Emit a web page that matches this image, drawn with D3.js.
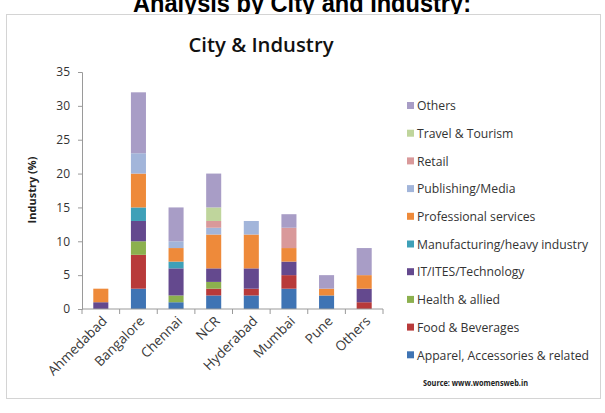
<!DOCTYPE html>
<html>
<head>
<meta charset="utf-8">
<script src="https://cdn.jsdelivr.net/npm/d3@7"></script>
<style>
  body { margin: 0; background: #fff; }
  svg { display: block; font-family: "Open Sans", sans-serif; }
</style>
</head>
<body>
<div id="chart"></div>
<script>
// categories and series
const cities = ["Ahmedabad", "Bangalore", "Chennai", "NCR", "Hyderabad", "Mumbai", "Pune", "Others"];
const industries = ["Apparel, Accessories & related", "Food & Beverages", "Health & allied",
  "IT/ITES/Technology", "Manufacturing/heavy industry", "Professional services",
  "Publishing/Media", "Retail", "Travel & Tourism", "Others"];

// values (%) per industry, in city order
const apparel       = [0, 3, 1, 2, 2, 3, 2, 0];
const food          = [0, 5, 0, 1, 1, 2, 0, 1];
const health        = [0, 2, 1, 1, 0, 0, 0, 0];
const it            = [1, 3, 4, 2, 3, 2, 0, 2];
const manufacturing = [0, 2, 1, 0, 0, 0, 0, 0];
const professional  = [2, 5, 2, 5, 5, 2, 1, 2];
const publishing    = [0, 3, 1, 1, 2, 0, 0, 0];
const retail        = [0, 0, 0, 1, 0, 3, 0, 0];
const travel        = [0, 0, 0, 2, 0, 0, 0, 0];
const others        = [0, 9, 5, 5, 0, 2, 2, 4];

const yTicks = [0, 5, 10, 15, 20, 25, 30, 35];
const colors = ["#3f74b4", "#b83a3a", "#8cb04e", "#64498e", "#3ea0b8", "#ee8a3a",
  "#a2b5da", "#d9999a", "#bfd59c", "#a89dc6"];

const seriesValues = [apparel, food, health, it, manufacturing, professional, publishing, retail, travel, others];

const width = 605, height = 413;
const margin = {top: 72, left: 82, bottom: 104, right: 222};

const svg = d3.select("#chart").append("svg")
  .attr("width", width)
  .attr("height", height);

// outer heading, cut off at the top of the picture
svg.append("text")
  .attr("x", 302).attr("y", 12)
  .attr("text-anchor", "middle")
  .attr("font-family", "Liberation Sans, sans-serif")
  .attr("font-weight", "bold")
  .attr("font-size", 26)
  .attr("textLength", 338)
  .attr("lengthAdjust", "spacingAndGlyphs")
  .attr("fill", "#000")
  .text("Analysis by City and Industry:");

// chart frame
svg.append("rect")
  .attr("x", 6.5).attr("y", 14.5)
  .attr("width", 594).attr("height", 384)
  .attr("fill", "#fff")
  .attr("stroke", "#d4d4d4");

svg.append("text")
  .attr("x", 261).attr("y", 52)
  .attr("text-anchor", "middle")
  .attr("font-size", 20)
  .attr("font-weight", 600)
  .attr("textLength", 145)
  .attr("lengthAdjust", "spacingAndGlyphs")
  .attr("fill", "#111")
  .text("City & Industry");

// data table for stacking
const table = cities.map((c, i) => {
  const row = {city: c};
  industries.forEach((k, j) => row[k] = seriesValues[j][i]);
  return row;
});
const stacked = d3.stack().keys(industries)(table);

const x = d3.scaleBand()
  .domain(cities)
  .range([margin.left, 383])
  .paddingInner(0.6)
  .paddingOuter(0.3);

const y = d3.scaleLinear()
  .domain([0, 35])
  .range([309, margin.top]);

const color = d3.scaleOrdinal().domain(industries).range(colors);

// y axis
const yAxis = svg.append("g")
  .attr("transform", `translate(${margin.left},0)`)
  .call(d3.axisLeft(y).tickValues(yTicks).tickSize(4).tickPadding(8));
yAxis.select(".domain").attr("stroke", "#9a9a9a");
yAxis.selectAll(".tick line").attr("stroke", "#9a9a9a");
yAxis.selectAll("text").attr("font-size", 12).attr("fill", "#333")
  .attr("font-family", "Open Sans, sans-serif");

svg.append("text")
  .attr("transform", "translate(36,190) rotate(-90)")
  .attr("text-anchor", "middle")
  .attr("font-size", 11)
  .attr("font-weight", "bold")
  .attr("fill", "#222")
  .text("Industry (%)");

// bars
svg.append("g")
  .selectAll("g")
  .data(stacked)
  .join("g")
    .attr("fill", d => color(d.key))
  .selectAll("rect")
  .data(d => d)
  .join("rect")
    .attr("x", d => x(d.data.city))
    .attr("y", d => y(d[1]))
    .attr("width", x.bandwidth())
    .attr("height", d => y(d[0]) - y(d[1]));

// x axis with ticks between categories
const xAxisG = svg.append("g")
  .attr("transform", `translate(0,${y(0)})`);
xAxisG.append("line")
  .attr("x1", margin.left).attr("x2", 383)
  .attr("stroke", "#9a9a9a");
const step = x.step();
const firstEdge = x(cities[0]) - step * x.paddingOuter();
xAxisG.selectAll("line.tk")
  .data(d3.range(cities.length + 1))
  .join("line")
    .attr("class", "tk")
    .attr("x1", i => firstEdge + i * step)
    .attr("x2", i => firstEdge + i * step)
    .attr("y1", 0).attr("y2", 5)
    .attr("stroke", "#9a9a9a");
xAxisG.selectAll("text")
  .data(cities)
  .join("text")
    .attr("transform", d => `translate(${x(d) + x.bandwidth() / 2 + 7},13) rotate(-45)`)
    .attr("text-anchor", "end")
    .attr("font-size", 13.5)
    .attr("fill", "#3a3a3a")
    .text(d => d);

// legend, top entry is last series
const legend = svg.append("g")
  .selectAll("g")
  .data(industries.slice().reverse())
  .join("g")
    .attr("transform", (d, i) => `translate(407,${106 + i * 27.7})`);
legend.append("rect")
  .attr("x", 0).attr("y", -4)
  .attr("width", 7).attr("height", 7)
  .attr("fill", d => color(d));
legend.append("text")
  .attr("x", 10).attr("y", 0)
  .attr("dy", "0.35em")
  .attr("font-size", 12.2)
  .attr("fill", "#333")
  .text(d => d);

svg.append("text")
  .attr("x", 423).attr("y", 386)
  .attr("font-size", 8)
  .attr("font-weight", "bold")
  .attr("fill", "#222")
  .attr("textLength", 105)
  .attr("lengthAdjust", "spacingAndGlyphs")
  .text("Source: www.womensweb.in");
</script>
</body>
</html>
